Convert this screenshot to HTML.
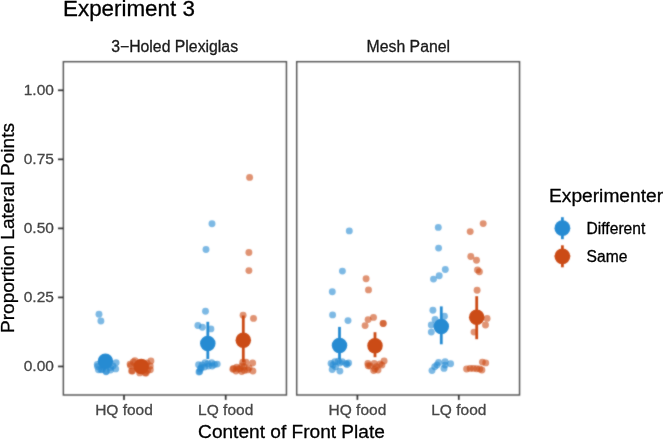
<!DOCTYPE html><html><head><meta charset="utf-8"><style>html,body{margin:0;padding:0;background:#fff;}svg{display:block;}#w{width:664px;height:439px;will-change:transform;}text{font-family:"Liberation Sans",sans-serif;stroke-width:0.3px;stroke-linejoin:round;}</style></head><body>
<div id="w"><svg width="664" height="439" viewBox="0 0 664 439">
<defs><filter id="sf" x="0" y="0" width="664" height="439" filterUnits="userSpaceOnUse" color-interpolation-filters="sRGB"><feConvolveMatrix order="3" kernelMatrix="1 2 1 2 12 2 1 2 1" divisor="24" edgeMode="duplicate" preserveAlpha="true"/></filter></defs><g filter="url(#sf)">
<rect x="0" y="0" width="664" height="439" fill="#fff"/>
<circle cx="99.0" cy="314.2" r="3.45" fill="#268BD2" fill-opacity="0.6"/>
<circle cx="100.9" cy="321.0" r="3.45" fill="#268BD2" fill-opacity="0.6"/>
<circle cx="97.3" cy="364.4" r="3.45" fill="#268BD2" fill-opacity="0.6"/>
<circle cx="98.5" cy="369.8" r="3.45" fill="#268BD2" fill-opacity="0.6"/>
<circle cx="106.3" cy="371.3" r="3.45" fill="#268BD2" fill-opacity="0.6"/>
<circle cx="116.1" cy="362.7" r="3.45" fill="#268BD2" fill-opacity="0.6"/>
<circle cx="115.7" cy="368.9" r="3.45" fill="#268BD2" fill-opacity="0.6"/>
<circle cx="101" cy="369.8" r="3.45" fill="#268BD2" fill-opacity="0.6"/>
<circle cx="103.5" cy="367" r="3.45" fill="#268BD2" fill-opacity="0.6"/>
<circle cx="110.5" cy="367.5" r="3.45" fill="#268BD2" fill-opacity="0.6"/>
<circle cx="108" cy="359" r="3.45" fill="#268BD2" fill-opacity="0.6"/>
<circle cx="97.5" cy="366.5" r="3.45" fill="#268BD2" fill-opacity="0.6"/>
<circle cx="102.3" cy="369.4" r="3.45" fill="#268BD2" fill-opacity="0.6"/>
<circle cx="110.5" cy="370.1" r="3.45" fill="#268BD2" fill-opacity="0.6"/>
<circle cx="113" cy="366" r="3.45" fill="#268BD2" fill-opacity="0.6"/>
<circle cx="106" cy="371.8" r="3.45" fill="#268BD2" fill-opacity="0.6"/>
<circle cx="212" cy="223.7" r="3.45" fill="#268BD2" fill-opacity="0.6"/>
<circle cx="206" cy="249.5" r="3.45" fill="#268BD2" fill-opacity="0.6"/>
<circle cx="205.5" cy="311.2" r="3.45" fill="#268BD2" fill-opacity="0.6"/>
<circle cx="197.9" cy="325.5" r="3.45" fill="#268BD2" fill-opacity="0.6"/>
<circle cx="202.4" cy="327.2" r="3.45" fill="#268BD2" fill-opacity="0.6"/>
<circle cx="210.9" cy="328.9" r="3.45" fill="#268BD2" fill-opacity="0.6"/>
<circle cx="198.6" cy="364.7" r="3.45" fill="#268BD2" fill-opacity="0.6"/>
<circle cx="199.7" cy="371.5" r="3.45" fill="#268BD2" fill-opacity="0.6"/>
<circle cx="201.3" cy="367.7" r="3.45" fill="#268BD2" fill-opacity="0.6"/>
<circle cx="205.1" cy="362.75" r="3.45" fill="#268BD2" fill-opacity="0.6"/>
<circle cx="207.9" cy="363.8" r="3.45" fill="#268BD2" fill-opacity="0.6"/>
<circle cx="211.7" cy="362.75" r="3.45" fill="#268BD2" fill-opacity="0.6"/>
<circle cx="212.2" cy="366" r="3.45" fill="#268BD2" fill-opacity="0.6"/>
<circle cx="217.2" cy="364.1" r="3.45" fill="#268BD2" fill-opacity="0.6"/>
<circle cx="204.6" cy="367.1" r="3.45" fill="#268BD2" fill-opacity="0.6"/>
<circle cx="202" cy="365" r="3.45" fill="#268BD2" fill-opacity="0.6"/>
<circle cx="208.5" cy="366" r="3.45" fill="#268BD2" fill-opacity="0.6"/>
<circle cx="200.3" cy="369" r="3.45" fill="#268BD2" fill-opacity="0.6"/>
<circle cx="214.5" cy="364.5" r="3.45" fill="#268BD2" fill-opacity="0.6"/>
<circle cx="199" cy="372" r="3.45" fill="#268BD2" fill-opacity="0.6"/>
<circle cx="349.3" cy="230.9" r="3.45" fill="#268BD2" fill-opacity="0.6"/>
<circle cx="342.4" cy="271.1" r="3.45" fill="#268BD2" fill-opacity="0.6"/>
<circle cx="332.3" cy="291.7" r="3.45" fill="#268BD2" fill-opacity="0.6"/>
<circle cx="332.6" cy="314.9" r="3.45" fill="#268BD2" fill-opacity="0.6"/>
<circle cx="348.0" cy="320.6" r="3.45" fill="#268BD2" fill-opacity="0.6"/>
<circle cx="331.1" cy="363.5" r="3.45" fill="#268BD2" fill-opacity="0.6"/>
<circle cx="332.2" cy="369.5" r="3.45" fill="#268BD2" fill-opacity="0.6"/>
<circle cx="334.9" cy="361.8" r="3.45" fill="#268BD2" fill-opacity="0.6"/>
<circle cx="338.2" cy="361.3" r="3.45" fill="#268BD2" fill-opacity="0.6"/>
<circle cx="342.1" cy="361.6" r="3.45" fill="#268BD2" fill-opacity="0.6"/>
<circle cx="348.6" cy="362.9" r="3.45" fill="#268BD2" fill-opacity="0.6"/>
<circle cx="347" cy="364.6" r="3.45" fill="#268BD2" fill-opacity="0.6"/>
<circle cx="339.9" cy="371.1" r="3.45" fill="#268BD2" fill-opacity="0.6"/>
<circle cx="335.5" cy="366.8" r="3.45" fill="#268BD2" fill-opacity="0.6"/>
<circle cx="333" cy="365" r="3.45" fill="#268BD2" fill-opacity="0.6"/>
<circle cx="340" cy="363" r="3.45" fill="#268BD2" fill-opacity="0.6"/>
<circle cx="346" cy="363.5" r="3.45" fill="#268BD2" fill-opacity="0.6"/>
<circle cx="438.3" cy="227.4" r="3.45" fill="#268BD2" fill-opacity="0.6"/>
<circle cx="438.6" cy="248.1" r="3.45" fill="#268BD2" fill-opacity="0.6"/>
<circle cx="445.3" cy="269.5" r="3.45" fill="#268BD2" fill-opacity="0.6"/>
<circle cx="439.2" cy="275.8" r="3.45" fill="#268BD2" fill-opacity="0.6"/>
<circle cx="433.5" cy="279.1" r="3.45" fill="#268BD2" fill-opacity="0.6"/>
<circle cx="432.9" cy="310.2" r="3.45" fill="#268BD2" fill-opacity="0.6"/>
<circle cx="444.4" cy="316.2" r="3.45" fill="#268BD2" fill-opacity="0.6"/>
<circle cx="435.1" cy="319.5" r="3.45" fill="#268BD2" fill-opacity="0.6"/>
<circle cx="431.3" cy="325.0" r="3.45" fill="#268BD2" fill-opacity="0.6"/>
<circle cx="431.3" cy="332.1" r="3.45" fill="#268BD2" fill-opacity="0.6"/>
<circle cx="432.0" cy="370.6" r="3.45" fill="#268BD2" fill-opacity="0.6"/>
<circle cx="434.75" cy="366.8" r="3.45" fill="#268BD2" fill-opacity="0.6"/>
<circle cx="438.6" cy="362.4" r="3.45" fill="#268BD2" fill-opacity="0.6"/>
<circle cx="445.1" cy="361.6" r="3.45" fill="#268BD2" fill-opacity="0.6"/>
<circle cx="445.1" cy="365.1" r="3.45" fill="#268BD2" fill-opacity="0.6"/>
<circle cx="450.6" cy="363.8" r="3.45" fill="#268BD2" fill-opacity="0.6"/>
<circle cx="444" cy="368.4" r="3.45" fill="#268BD2" fill-opacity="0.6"/>
<circle cx="437" cy="365" r="3.45" fill="#268BD2" fill-opacity="0.6"/>
<circle cx="130.1" cy="364.1" r="3.45" fill="#CB4B16" fill-opacity="0.6"/>
<circle cx="131.6" cy="370.9" r="3.45" fill="#CB4B16" fill-opacity="0.6"/>
<circle cx="150.9" cy="360.9" r="3.45" fill="#CB4B16" fill-opacity="0.6"/>
<circle cx="150.3" cy="369.8" r="3.45" fill="#CB4B16" fill-opacity="0.6"/>
<circle cx="134.9" cy="360.6" r="3.45" fill="#CB4B16" fill-opacity="0.6"/>
<circle cx="146.1" cy="373" r="3.45" fill="#CB4B16" fill-opacity="0.6"/>
<circle cx="138" cy="368" r="3.45" fill="#CB4B16" fill-opacity="0.6"/>
<circle cx="145" cy="365" r="3.45" fill="#CB4B16" fill-opacity="0.6"/>
<circle cx="141" cy="369" r="3.45" fill="#CB4B16" fill-opacity="0.6"/>
<circle cx="147" cy="363" r="3.45" fill="#CB4B16" fill-opacity="0.6"/>
<circle cx="136" cy="366" r="3.45" fill="#CB4B16" fill-opacity="0.6"/>
<circle cx="130.5" cy="365.6" r="3.45" fill="#CB4B16" fill-opacity="0.6"/>
<circle cx="133.3" cy="362" r="3.45" fill="#CB4B16" fill-opacity="0.6"/>
<circle cx="132.4" cy="371" r="3.45" fill="#CB4B16" fill-opacity="0.6"/>
<circle cx="139.7" cy="372.9" r="3.45" fill="#CB4B16" fill-opacity="0.6"/>
<circle cx="145.1" cy="372.9" r="3.45" fill="#CB4B16" fill-opacity="0.6"/>
<circle cx="150.2" cy="366" r="3.45" fill="#CB4B16" fill-opacity="0.6"/>
<circle cx="147.5" cy="370.5" r="3.45" fill="#CB4B16" fill-opacity="0.6"/>
<circle cx="249.6" cy="177.4" r="3.45" fill="#CB4B16" fill-opacity="0.6"/>
<circle cx="248.9" cy="252.5" r="3.45" fill="#CB4B16" fill-opacity="0.6"/>
<circle cx="248.9" cy="270.6" r="3.45" fill="#CB4B16" fill-opacity="0.6"/>
<circle cx="243.1" cy="315.3" r="3.45" fill="#CB4B16" fill-opacity="0.6"/>
<circle cx="253.5" cy="318.4" r="3.45" fill="#CB4B16" fill-opacity="0.6"/>
<circle cx="232.9" cy="369.3" r="3.45" fill="#CB4B16" fill-opacity="0.6"/>
<circle cx="236.75" cy="367.1" r="3.45" fill="#CB4B16" fill-opacity="0.6"/>
<circle cx="240" cy="368.8" r="3.45" fill="#CB4B16" fill-opacity="0.6"/>
<circle cx="242.8" cy="362.2" r="3.45" fill="#CB4B16" fill-opacity="0.6"/>
<circle cx="246" cy="362.2" r="3.45" fill="#CB4B16" fill-opacity="0.6"/>
<circle cx="252.6" cy="363" r="3.45" fill="#CB4B16" fill-opacity="0.6"/>
<circle cx="244.4" cy="370.4" r="3.45" fill="#CB4B16" fill-opacity="0.6"/>
<circle cx="247.7" cy="369.9" r="3.45" fill="#CB4B16" fill-opacity="0.6"/>
<circle cx="252.9" cy="371" r="3.45" fill="#CB4B16" fill-opacity="0.6"/>
<circle cx="241.7" cy="371.5" r="3.45" fill="#CB4B16" fill-opacity="0.6"/>
<circle cx="238" cy="369" r="3.45" fill="#CB4B16" fill-opacity="0.6"/>
<circle cx="244" cy="367" r="3.45" fill="#CB4B16" fill-opacity="0.6"/>
<circle cx="249" cy="368" r="3.45" fill="#CB4B16" fill-opacity="0.6"/>
<circle cx="236" cy="371" r="3.45" fill="#CB4B16" fill-opacity="0.6"/>
<circle cx="242" cy="366" r="3.45" fill="#CB4B16" fill-opacity="0.6"/>
<circle cx="233.5" cy="368.5" r="3.45" fill="#CB4B16" fill-opacity="0.6"/>
<circle cx="366.1" cy="278.8" r="3.45" fill="#CB4B16" fill-opacity="0.6"/>
<circle cx="368.5" cy="289.9" r="3.45" fill="#CB4B16" fill-opacity="0.6"/>
<circle cx="373.5" cy="317.4" r="3.45" fill="#CB4B16" fill-opacity="0.6"/>
<circle cx="368.1" cy="319.6" r="3.45" fill="#CB4B16" fill-opacity="0.6"/>
<circle cx="365.1" cy="325.6" r="3.45" fill="#CB4B16" fill-opacity="0.6"/>
<circle cx="383.2" cy="323.5" r="3.45" fill="#CB4B16" fill-opacity="0.6"/>
<circle cx="383.2" cy="323.5" r="3.45" fill="#CB4B16" fill-opacity="0.6"/>
<circle cx="367.9" cy="363.5" r="3.45" fill="#CB4B16" fill-opacity="0.6"/>
<circle cx="368.2" cy="365.7" r="3.45" fill="#CB4B16" fill-opacity="0.6"/>
<circle cx="374.2" cy="363.5" r="3.45" fill="#CB4B16" fill-opacity="0.6"/>
<circle cx="384.1" cy="361" r="3.45" fill="#CB4B16" fill-opacity="0.6"/>
<circle cx="381.9" cy="365.1" r="3.45" fill="#CB4B16" fill-opacity="0.6"/>
<circle cx="373.7" cy="370.6" r="3.45" fill="#CB4B16" fill-opacity="0.6"/>
<circle cx="378" cy="370.1" r="3.45" fill="#CB4B16" fill-opacity="0.6"/>
<circle cx="376.4" cy="366.8" r="3.45" fill="#CB4B16" fill-opacity="0.6"/>
<circle cx="370" cy="366" r="3.45" fill="#CB4B16" fill-opacity="0.6"/>
<circle cx="375" cy="369" r="3.45" fill="#CB4B16" fill-opacity="0.6"/>
<circle cx="380" cy="364" r="3.45" fill="#CB4B16" fill-opacity="0.6"/>
<circle cx="483.2" cy="223.6" r="3.45" fill="#CB4B16" fill-opacity="0.6"/>
<circle cx="470.2" cy="231.6" r="3.45" fill="#CB4B16" fill-opacity="0.6"/>
<circle cx="470.8" cy="256.5" r="3.45" fill="#CB4B16" fill-opacity="0.6"/>
<circle cx="476.5" cy="260.3" r="3.45" fill="#CB4B16" fill-opacity="0.6"/>
<circle cx="477.5" cy="269.9" r="3.45" fill="#CB4B16" fill-opacity="0.6"/>
<circle cx="479.4" cy="271.8" r="3.45" fill="#CB4B16" fill-opacity="0.6"/>
<circle cx="477.1" cy="290.2" r="3.45" fill="#CB4B16" fill-opacity="0.6"/>
<circle cx="487.1" cy="318.4" r="3.45" fill="#CB4B16" fill-opacity="0.6"/>
<circle cx="485.5" cy="325.0" r="3.45" fill="#CB4B16" fill-opacity="0.6"/>
<circle cx="474.0" cy="332.1" r="3.45" fill="#CB4B16" fill-opacity="0.6"/>
<circle cx="466.6" cy="369" r="3.45" fill="#CB4B16" fill-opacity="0.6"/>
<circle cx="470.1" cy="368.4" r="3.45" fill="#CB4B16" fill-opacity="0.6"/>
<circle cx="473.4" cy="368.4" r="3.45" fill="#CB4B16" fill-opacity="0.6"/>
<circle cx="476.7" cy="368.7" r="3.45" fill="#CB4B16" fill-opacity="0.6"/>
<circle cx="479.7" cy="369" r="3.45" fill="#CB4B16" fill-opacity="0.6"/>
<circle cx="481.9" cy="370" r="3.45" fill="#CB4B16" fill-opacity="0.6"/>
<circle cx="482.4" cy="362.1" r="3.45" fill="#CB4B16" fill-opacity="0.6"/>
<circle cx="485.7" cy="362.9" r="3.45" fill="#CB4B16" fill-opacity="0.6"/>
<circle cx="105.4" cy="361.2" r="7.75" fill="#268BD2"/>
<circle cx="141.2" cy="366.5" r="7.75" fill="#CB4B16"/>
<line x1="207.8" y1="321.8" x2="207.8" y2="359.0" stroke="#268BD2" stroke-width="2.8"/>
<circle cx="207.8" cy="343.5" r="7.75" fill="#268BD2"/>
<line x1="243.3" y1="315.5" x2="243.3" y2="362.0" stroke="#CB4B16" stroke-width="2.8"/>
<circle cx="243.3" cy="340.3" r="7.75" fill="#CB4B16"/>
<line x1="339.5" y1="326.9" x2="339.5" y2="359.5" stroke="#268BD2" stroke-width="2.8"/>
<circle cx="339.5" cy="345.4" r="7.75" fill="#268BD2"/>
<line x1="375.0" y1="332.2" x2="375.0" y2="357.2" stroke="#CB4B16" stroke-width="2.8"/>
<circle cx="375.0" cy="345.8" r="7.75" fill="#CB4B16"/>
<line x1="441.3" y1="306.4" x2="441.3" y2="344.3" stroke="#268BD2" stroke-width="2.8"/>
<circle cx="441.3" cy="326.6" r="7.75" fill="#268BD2"/>
<line x1="476.7" y1="296.2" x2="476.7" y2="339.2" stroke="#CB4B16" stroke-width="2.8"/>
<circle cx="476.7" cy="317.3" r="7.75" fill="#CB4B16"/>
<rect x="63.35" y="61.7" width="223.1" height="333.3" fill="none" stroke="#555" stroke-width="1.45"/>
<rect x="296.7" y="61.7" width="222.84999999999997" height="333.3" fill="none" stroke="#555" stroke-width="1.45"/>
<line x1="58.0" y1="366.45" x2="63.35" y2="366.45" stroke="#333" stroke-width="1.7"/>
<line x1="58.0" y1="297.41" x2="63.35" y2="297.41" stroke="#333" stroke-width="1.7"/>
<line x1="58.0" y1="228.37" x2="63.35" y2="228.37" stroke="#333" stroke-width="1.7"/>
<line x1="58.0" y1="159.33" x2="63.35" y2="159.33" stroke="#333" stroke-width="1.7"/>
<line x1="58.0" y1="90.29" x2="63.35" y2="90.29" stroke="#333" stroke-width="1.7"/>
<line x1="124.0" y1="395.0" x2="124.0" y2="399.9" stroke="#333" stroke-width="1.7"/>
<line x1="225.7" y1="395.0" x2="225.7" y2="399.9" stroke="#333" stroke-width="1.7"/>
<line x1="357.4" y1="395.0" x2="357.4" y2="399.9" stroke="#333" stroke-width="1.7"/>
<line x1="458.8" y1="395.0" x2="458.8" y2="399.9" stroke="#333" stroke-width="1.7"/>
<line x1="562.4" y1="217.2" x2="562.4" y2="239.2" stroke="#268BD2" stroke-width="2.8"/>
<circle cx="562.4" cy="228.2" r="7.9" fill="#268BD2"/>
<line x1="562.4" y1="245.3" x2="562.4" y2="267.3" stroke="#CB4B16" stroke-width="2.8"/>
<circle cx="562.4" cy="256.3" r="7.9" fill="#CB4B16"/>
</g>
<text x="63" y="16.2" font-size="22.4" fill="#000" stroke="#000">Experiment 3</text>
<text x="174.6" y="51.5" font-size="15.8" fill="#1A1A1A" stroke="#1A1A1A" text-anchor="middle">3−Holed Plexiglas</text>
<text x="408.3" y="51.5" font-size="15.8" fill="#1A1A1A" stroke="#1A1A1A" text-anchor="middle">Mesh Panel</text>
<text x="53.9" y="371.45" font-size="15.5" fill="#474747" stroke="#474747" text-anchor="end">0.00</text>
<text x="53.9" y="302.41" font-size="15.5" fill="#474747" stroke="#474747" text-anchor="end">0.25</text>
<text x="53.9" y="233.37" font-size="15.5" fill="#474747" stroke="#474747" text-anchor="end">0.50</text>
<text x="53.9" y="164.33" font-size="15.5" fill="#474747" stroke="#474747" text-anchor="end">0.75</text>
<text x="53.9" y="95.29" font-size="15.5" fill="#474747" stroke="#474747" text-anchor="end">1.00</text>
<text x="124.0" y="415.3" font-size="15.5" fill="#474747" stroke="#474747" text-anchor="middle">HQ food</text>
<text x="225.7" y="415.3" font-size="15.5" fill="#474747" stroke="#474747" text-anchor="middle">LQ food</text>
<text x="357.4" y="415.3" font-size="15.5" fill="#474747" stroke="#474747" text-anchor="middle">HQ food</text>
<text x="458.8" y="415.3" font-size="15.5" fill="#474747" stroke="#474747" text-anchor="middle">LQ food</text>
<text x="291.5" y="438" font-size="19.1" fill="#000" stroke="#000" text-anchor="middle">Content of Front Plate</text>
<text transform="translate(13.7,228) rotate(-90)" x="0" y="0" font-size="19.1" fill="#000" stroke="#000" text-anchor="middle">Proportion Lateral Points</text>
<text x="549" y="202.4" font-size="19.2" fill="#000" stroke="#000">Experimenter</text>
<text x="586.6" y="234.2" font-size="15.6" fill="#000" stroke="#000">Different</text>
<text x="586.6" y="262.3" font-size="15.6" fill="#000" stroke="#000">Same</text>
</svg></div></body></html>
